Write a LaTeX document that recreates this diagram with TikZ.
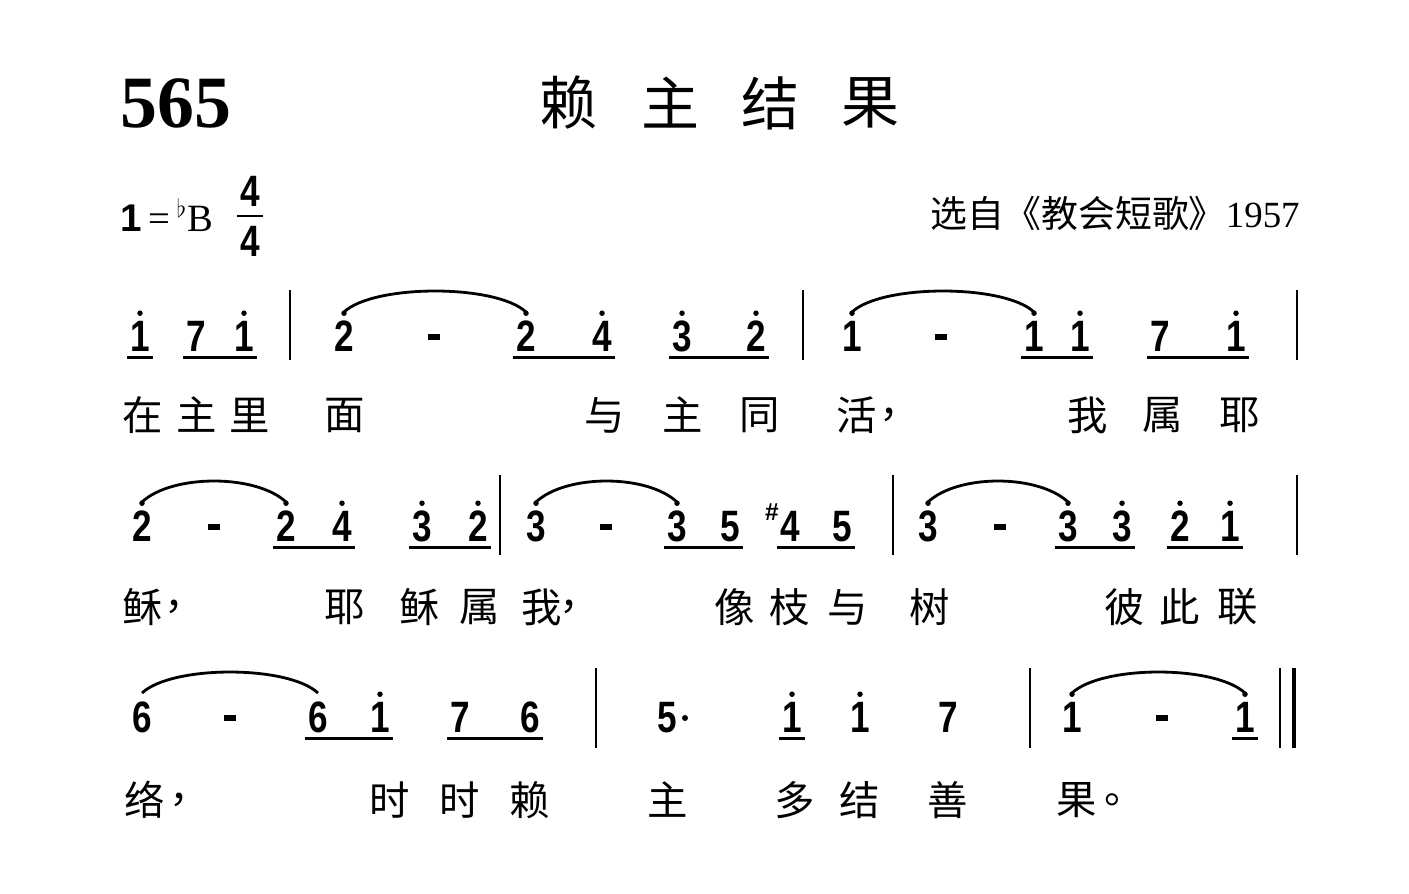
\documentclass[tikz,border=0pt]{standalone}
\usepackage{fontspec}
\setmainfont{Liberation Serif}
\newfontfamily\numfont{Liberation Sans}
\newfontfamily\cjk{Noto Sans CJK SC}
\tikzset{
  note/.style={font=\numfont\bfseries\fontsize{25}{25}\selectfont, inner sep=0pt,
    text height=17pt, text depth=0pt, xscale=0.8},
  lyric/.style={font=\cjk\fontsize{23}{23}\selectfont, inner sep=0pt},
  hdot/.style={fill=black},
  uline/.style={line width=1.6pt},
  slur/.style={line width=1.6pt},
  bar/.style={line width=1.3pt}
}
\newcommand\dash{\rule[7pt]{8pt}{3pt}}
\newcommand\uline[2]{\draw[uline] ([yshift=-0.11cm,xshift=-0.06cm]#1.south west) -- ([yshift=-0.11cm,xshift=0.06cm]#2.south east);}
\newcommand\slur[2]{\draw[slur] ([yshift=0.5cm]#1.center) .. controls +(30,-28) and +(-30,-28) .. ([yshift=0.5cm]#2.center);}
\begin{document}
\begin{tikzpicture}[x=0.02cm,y=-0.02cm]
\useasboundingbox (0,0) rectangle (1409,893);

% heading
\node[font=\bfseries\fontsize{42}{42}\selectfont, anchor=west, inner sep=0pt] (num) at (120,103) {565};
\foreach \x/\c [count=\i] in {568/赖,670/主,770/结,870/果}
  \node[font=\cjk\fontsize{33}{33}\selectfont, inner sep=0pt] (title\i) at (\x,103) {\c};
\node[anchor=west, inner sep=0pt, font=\fontsize{22}{22}\selectfont] (key) at (120,215)
  {{\numfont\bfseries 1}\,=\,$^{\flat}$B};
\node[note] (top) at (250,192) {4};
\node[note] (bot) at (250,242) {4};
\draw[line width=1.2pt] (237,216) -- (263,216);
\node[anchor=east, inner sep=0pt, font=\fontsize{21}{21}\selectfont] (src) at (1300,213)
  {{\cjk 选自《教会短歌》}1957};

% row 1
\foreach \x/\d/\h [count=\i] in {140/1/1,196/7/0,244/1/1,344/2/1,434/\dash/0,526/2/1,602/4/1,682/3/1,756/2/1,
  852/1/1,941/\dash/0,1034/1/1,1080/1/1,1160/7/0,1236/1/1}{
  \node[note] (a\i) at (\x,337) {\d};
  \ifnum\h=1 \fill[hdot] ([yshift=0.17cm]a\i.north) circle (0.055cm);\fi
}
\uline{a1}{a1} \uline{a2}{a3} \uline{a6}{a7} \uline{a8}{a9} \uline{a12}{a13} \uline{a14}{a15}
\slur{a4}{a6} \slur{a10}{a12}
\foreach \x in {290,803,1297} \draw[bar] (\x,290) -- (\x,360);
\foreach \x/\c [count=\i] in {143/在,197/主,250/里,345/面,605/与,683/主,760/同,857/活,900/，,1088/我,1163/属,1240/耶}
  \node[lyric] (la\i) at (\x,415) {\c};

% row 2
\foreach \x/\d/\h [count=\i] in {142/2/1,214/\dash/0,286/2/1,342/4/1,422/3/1,478/2/1,536/3/1,606/\dash/0,677/3/1,
  730/5/0,790/4/0,842/5/0,928/3/1,1000/\dash/0,1068/3/1,1122/3/1,1180/2/1,1230/1/1}{
  \node[note] (b\i) at (\x,527) {\d};
  \ifnum\h=1 \fill[hdot] ([yshift=0.17cm]b\i.north) circle (0.055cm);\fi
}
\node[font=\numfont\bfseries\fontsize{14}{14}\selectfont, inner sep=0pt] (sharp) at (772,512) {\#};
\uline{b3}{b4} \uline{b5}{b6} \uline{b9}{b10} \uline{b11}{b12} \uline{b15}{b16} \uline{b17}{b18}
\slur{b1}{b3} \slur{b7}{b9} \slur{b13}{b15}
\foreach \x in {500,893,1297} \draw[bar] (\x,475) -- (\x,555);
\foreach \x/\c [count=\i] in {143/稣,185/，,345/耶,420/稣,480/属,542/我,580/，,735/像,790/枝,848/与,930/树,1125/彼,1180/此,1238/联}
  \node[lyric] (lb\i) at (\x,607) {\c};

% row 3
\foreach \x/\d/\h [count=\i] in {142/6/0,230/\dash/0,318/6/0,380/1/1,460/7/0,530/6/0,667/5/0,792/1/1,860/1/1,
  948/7/0,1072/1/1,1162/\dash/0,1245/1/1}{
  \node[note] (c\i) at (\x,718) {\d};
  \ifnum\h=1 \fill[hdot] ([yshift=0.17cm]c\i.north) circle (0.055cm);\fi
}
\fill (685,718) circle (0.06cm);
\uline{c3}{c4} \uline{c5}{c6} \uline{c8}{c8} \uline{c13}{c13}
\slur{c1}{c3} \slur{c11}{c13}
\foreach \x in {596,1030,1280} \draw[bar] (\x,668) -- (\x,748);
\draw[line width=2.4pt] (1294,668) -- (1294,748);
\foreach \x/\c [count=\i] in {145/络,190/，,390/时,460/时,530/赖,668/主,795/多,860/结,948/善,1077/果,1125/。}
  \node[lyric] (lc\i) at (\x,800) {\c};
\end{tikzpicture}
\end{document}
